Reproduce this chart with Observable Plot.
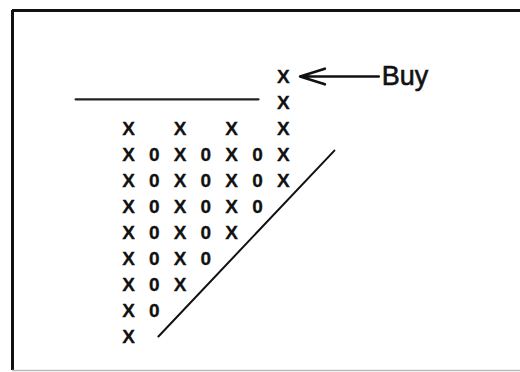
<!DOCTYPE html>
<html>
<head>
<meta charset="utf-8">
<script src="https://cdn.jsdelivr.net/npm/d3@7"></script>
<script src="https://cdn.jsdelivr.net/npm/@observablehq/plot@0.6"></script>
<style>
  html, body { margin: 0; padding: 0; background: #fff; }
</style>
</head>
<body>
<div id="chart"></div>
<script>
// Point & figure columns: type and the box levels they span (low..high)
const columns = [1, 2, 3, 4, 5, 6, 7];
const colTypes = ["X", "0", "X", "0", "X", "0", "X"];
const colLow  = [1, 2, 3, 4, 5, 6, 7];
const colHigh = [9, 8, 9, 8, 9, 8, 11];

// Resistance (horizontal) line and rising trend line, in column/box units
const resistX = [-1.05, 6.04];
const resistY = [10.12, 10.12];
const trendX = [2.16, 8.98];
const trendY = [1, 8.15];

// Buy signal annotation
const buyLabel = "Buy";
const buyLevel = 11;
const arrowFrom = 10.7;
const arrowTo = 7.65;

const boxes = [];
columns.forEach((c, i) => {
  for (let lv = colLow[i]; lv <= colHigh[i]; lv++) boxes.push({col: c, level: lv, t: colTypes[i]});
});

const xDomain = [-3.496, 16.194];
const yDomain = [-0.3077, 13.538];

const chart = Plot.plot({
  width: 520,
  height: 372,
  marginLeft: 12,
  marginTop: 10,
  marginRight: 0,
  marginBottom: 2,
  x: {domain: xDomain, axis: null},
  y: {domain: yDomain, axis: null},
  style: {background: "#fff"},
  marks: [
    // border: left, top, bottom
    Plot.ruleX([xDomain[0]], {stroke: "#111", strokeWidth: 3}),
    Plot.ruleY([yDomain[1]], {stroke: "#111", strokeWidth: 3}),
    Plot.ruleY([yDomain[0]], {stroke: "#bbb", strokeWidth: 1.5}),
    Plot.line(resistX.map((x, i) => ({x, y: resistY[i]})), {x: "x", y: "y", stroke: "#222", strokeWidth: 2.2}),
    Plot.line(trendX.map((x, i) => ({x, y: trendY[i]})), {x: "x", y: "y", stroke: "#111", strokeWidth: 2}),
    Plot.text(boxes, {
      x: "col", y: "level", text: "t",
      fontSize: 19, fontWeight: "bold",
      fontFamily: "Liberation Sans, Arial, sans-serif",
      fill: "#111", stroke: "#111", strokeWidth: 0.3
    }),
    Plot.arrow([{x1: arrowFrom, x2: arrowTo, y: buyLevel}], {
      x1: "x1", x2: "x2", y1: "y", y2: "y",
      stroke: "#111", strokeWidth: 2.6, headLength: 15, headAngle: 35, bend: 0
    }),
    Plot.text([{x: arrowFrom, y: buyLevel, t: buyLabel}], {
      x: "x", y: "y", text: "t", textAnchor: "start", dx: 3,
      fontSize: 27, fontFamily: "Liberation Sans, Arial, sans-serif",
      fill: "#111", stroke: "#111", strokeWidth: 0.6
    })
  ]
});
document.getElementById("chart").appendChild(chart);
</script>
</body>
</html>
